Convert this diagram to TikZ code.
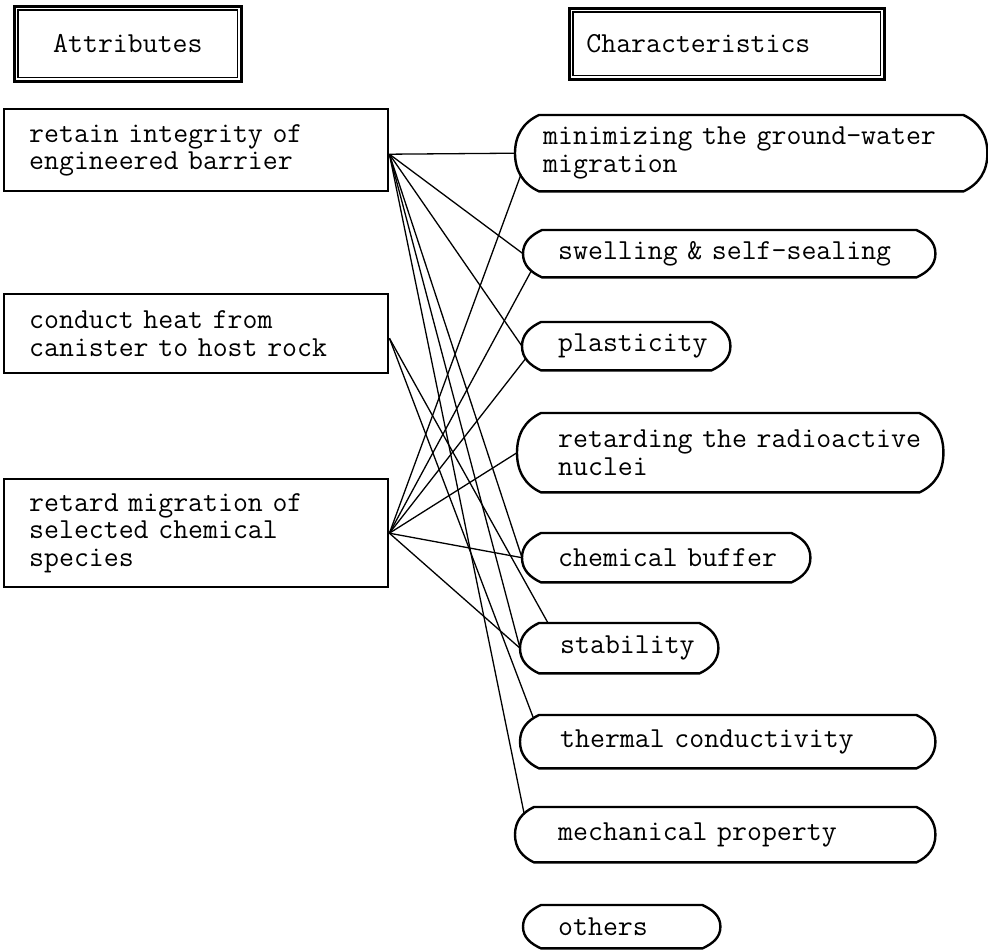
\documentclass[tikz,border=0pt]{standalone}
\usepackage{fontspec}
\usetikzlibrary{calc}
\tikzset{
  txt/.style={font=\ttfamily\fontsize{29}{27.5}\selectfont\addfontfeatures{FakeBold=2.5}},
  attr/.style={txt, draw, line width=2.4pt, anchor=north west, align=left, inner ysep=0pt},
  chr/.style={txt, anchor=north west, align=left, inner ysep=0pt},
  hdr/.style={txt, draw, line width=2.8pt, anchor=north west, inner ysep=0pt},
  innerframe/.style={line width=1.2pt},
  capline/.style={line width=2.4pt, line join=round},
  link/.style={line width=1.3pt},
}
\begin{document}
\begin{tikzpicture}[x=1pt,y=-1pt]
\useasboundingbox (0,0) rectangle (988,950);

% headers
\node[hdr, minimum width=227, minimum height=75, align=center] (h1) at (13,5) {Attributes};
\draw[innerframe] ($(h1.north west)+(5,5)$) rectangle ($(h1.south east)+(-5,-5)$);
\node[hdr, minimum width=315, minimum height=71, inner xsep=17, text width=281, align=left] (h2) at (568,7) {Characteristics};
\draw[innerframe] ($(h2.north west)+(5,5)$) rectangle ($(h2.south east)+(-5,-5)$);

% attributes
\node[attr, minimum width=384, minimum height=82, inner xsep=25, text width=334] (A1) at (3,108)
  {retain integrity of\\engineered barrier};
\node[attr, minimum width=384, minimum height=79, inner xsep=25, text width=334] (A2) at (3,293)
  {conduct heat from\\canister to host rock};
\node[attr, minimum width=384, minimum height=108, inner xsep=25, text width=334] (A3) at (3,478)
  {retard migration of\\selected chemical\\species};

% characteristics
\node[chr, minimum width=472, minimum height=76, inner xsep=28, text width=416] (c1) at (515,115)
  {\mbox{minimizing the ground-water}\\migration};
\node[chr, minimum width=412, minimum height=47, inner xsep=35, text width=342] (c2) at (523,230)
  {\mbox{swelling \& self-sealing}};
\node[chr, minimum width=208, minimum height=48, inner xsep=36, text width=136] (c3) at (522,322)
  {\mbox{plasticity}};
\node[chr, minimum width=426, minimum height=79, inner xsep=41, text width=344] (c4) at (517,413)
  {\mbox{retarding the radioactive}\\nuclei};
\node[chr, minimum width=288, minimum height=49, inner xsep=36, text width=216] (c5) at (522,533)
  {\mbox{chemical buffer}};
\node[chr, minimum width=198, minimum height=50, inner xsep=40, text width=118] (c6) at (520,623)
  {\mbox{stability}};
\node[chr, minimum width=415, minimum height=53, inner xsep=40, text width=335] (c7) at (520,715)
  {\mbox{thermal conductivity}};
\node[chr, minimum width=420, minimum height=55, inner xsep=43, text width=334] (c8) at (515,807)
  {\mbox{mechanical property}};
\node[chr, minimum width=197, minimum height=43, inner xsep=35, text width=127] (c9) at (523,905)
  {\mbox{others}};

\foreach \n/\e in {c1/24,c2/19,c3/19,c4/24,c5/19,c6/19,c7/19,c8/19,c9/18}
  \draw[capline] ([xshift=\e]\n.north west) -- ([xshift=-\e]\n.north east)
    to[out=-25,in=90] (\n.east) to[out=-90,in=25] ([xshift=-\e]\n.south east)
    -- ([xshift=\e]\n.south west)
    to[out=155,in=-90] (\n.west) to[out=90,in=205] ([xshift=\e]\n.north west) -- cycle;

% connectors from A1
\draw[link] ([yshift=-4]A1.east) -- (c1.west);
\draw[link] ([yshift=-4]A1.east) -- (c2.west);
\draw[link] ([yshift=-4]A1.east) -- (c3.west);
\draw[link] ([yshift=-4]A1.east) -- (c5.west);
\draw[link] ([yshift=-4]A1.east) -- (c6.west);
\draw[link] ([yshift=-4]A1.east) -- ($(c8.north west)+(9,6)$);
% connectors from A2
\draw[link] ([yshift=-4.5]A2.east) -- ($(c6.north west)+(28,0)$);
\draw[link] ([yshift=-4.5]A2.east) -- ($(c7.north west)+(13,2)$);
% connectors from A3
\draw[link] (A3.east) -- ($(c1.south west)+(6,-17)$);
\draw[link] (A3.east) -- ($(c2.south west)+(8,-6)$);
\draw[link] (A3.east) -- ($(c3.south west)+(3,-11)$);
\draw[link] (A3.east) -- (c4.west);
\draw[link] (A3.east) -- (c5.west);
\draw[link] (A3.east) -- (c6.west);
\end{tikzpicture}
\end{document}
